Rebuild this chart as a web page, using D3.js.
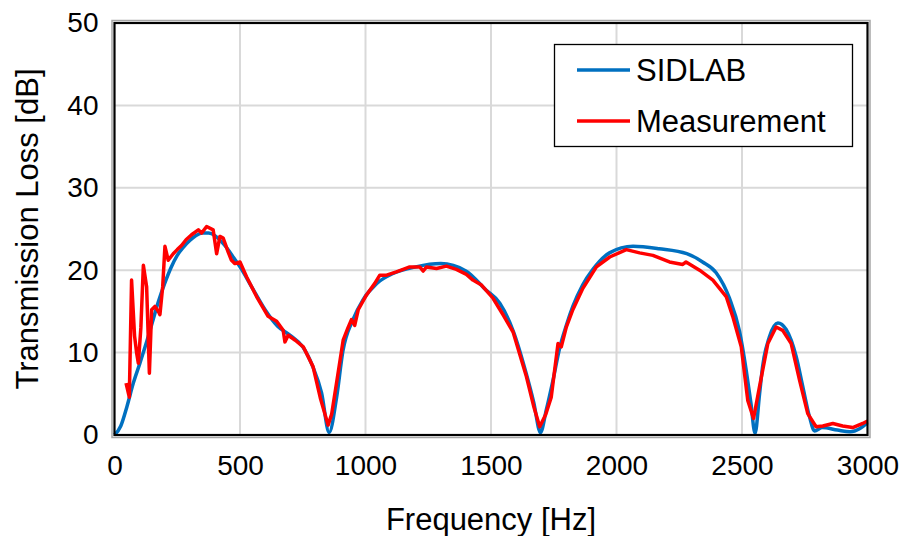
<!DOCTYPE html>
<html>
<head>
    <meta charset="utf-8">
    <style>
        body { margin: 0; padding: 0; overflow: hidden; background-color: #fff; }
        text { font-family: "Liberation Sans", Arial, sans-serif; fill: #000; }
        .grid line { stroke: #d9d9d9; stroke-width: 2; }
    </style>
</head>
<body>
    <div id="chart"></div>
    <script src="https://d3js.org/d3.v7.min.js"></script>
    <script>
        // SIDLAB prediction (smooth)
        var sidFreq = [0, 25, 50, 75, 100, 125, 150, 175, 200, 225, 250, 275, 300, 325, 350, 375, 400, 425, 450, 475, 500, 550, 600, 650, 700, 750, 790, 825, 855, 885, 910, 950, 990, 1045, 1110, 1200, 1300, 1400, 1480, 1535, 1590, 1640, 1670, 1697, 1720, 1746, 1773, 1800, 1826, 1865, 1906, 1972, 2066, 2170, 2280, 2343, 2397, 2450, 2490, 2517, 2535, 2552, 2570, 2582, 2609, 2643, 2676, 2716, 2742, 2769, 2789, 2820, 2880, 2930, 2970, 3000];
        var sidTL = [0, 1.1, 3.5, 6.3, 8.6, 11, 13.6, 16.2, 18.4, 20.3, 21.8, 22.8, 23.6, 24.2, 24.5, 24.5, 24.2, 23.5, 22.6, 21.5, 20.4, 17.8, 15.2, 13.2, 12.1, 10.7, 8.3, 5.1, 0.3, 4.6, 10.2, 14, 16.4, 18.4, 19.6, 20.4, 20.8, 19.9, 17.6, 16, 12.5, 7.5, 4, 0.3, 3, 6.5, 10.5, 13.3, 15.6, 18.2, 20.1, 22.1, 22.9, 22.6, 22, 21, 19.7, 16.6, 12.6, 7.8, 4, 0.2, 5, 8.3, 11.9, 13.6, 12.8, 9.5, 5.9, 2.2, 0.5, 0.9, 0.6, 0.4, 0.8, 1.5];

        // Measurement (noisy)
        var measFreq = [46, 59, 68, 80, 88, 95, 105, 115, 128, 139, 148, 161, 175, 181, 192, 201, 214, 234, 250, 267, 285, 307, 334, 347, 367, 393, 407, 420, 433, 453, 466, 480, 500, 526, 566, 612, 646, 672, 679, 692, 720, 752, 791, 820, 851, 865, 884, 911, 930, 944, 957, 971, 1004, 1037, 1057, 1084, 1123, 1150, 1176, 1216, 1230, 1243, 1283, 1322, 1362, 1402, 1428, 1462, 1508, 1550, 1588, 1641, 1670, 1694, 1718, 1740, 1767, 1780, 1800, 1826, 1866, 1920, 1973, 2039, 2092, 2145, 2211, 2264, 2277, 2331, 2384, 2437, 2463, 2497, 2523, 2546, 2570, 2603, 2636, 2662, 2696, 2729, 2762, 2795, 2822, 2862, 2901, 2941, 2981, 3000];
        var measTL = [6.3, 4.6, 18.8, 12, 10, 8.7, 13, 20.6, 18, 7.5, 15.2, 15.6, 15, 14.6, 18, 22.9, 21.2, 22, 22.5, 23, 23.7, 24.3, 24.9, 24.5, 25.3, 24.9, 22, 24.1, 23.9, 22.2, 21.2, 20.8, 21, 19.2, 16.8, 14.4, 13.8, 12.7, 11.3, 12.1, 11.5, 10.7, 8.3, 4.5, 1.2, 2.5, 6.2, 11.5, 13, 14, 13.3, 15.2, 17, 18.4, 19.4, 19.4, 19.8, 20.1, 20.4, 20.4, 19.9, 20.4, 20.2, 20.5, 20.1, 19.5, 18.8, 18.2, 16.6, 14.5, 12.5, 7.1, 3.5, 1, 2.5, 4.6, 11.1, 10.7, 13.1, 15.2, 17.8, 20.4, 21.6, 22.5, 22.1, 21.8, 21, 20.7, 21, 20, 18.8, 16.8, 14.4, 10.7, 4.2, 2, 5.9, 11.1, 13.1, 12.7, 11.1, 6.7, 2.6, 1, 1.1, 1.4, 1.1, 0.9, 1.4, 1.7];

        var xTicks = [0, 500, 1000, 1500, 2000, 2500, 3000];
        var yTicks = [0, 10, 20, 30, 40, 50];

        var width = 909, height = 536;
        var margin = { left: 114.5, right: 41.5, top: 23, bottom: 101 };

        var svg = d3.select("#chart").append("svg")
            .attr("width", width)
            .attr("height", height);

        var x = d3.scaleLinear().domain([0, 3000]).range([margin.left, width - margin.right]);
        var y = d3.scaleLinear().domain([0, 50]).range([height - margin.bottom, margin.top]);

        // gridlines
        var grid = svg.append("g").attr("class", "grid");
        grid.selectAll(".vx").data(xTicks.slice(1, -1)).enter().append("line")
            .attr("x1", d => x(d)).attr("x2", d => x(d))
            .attr("y1", y(0)).attr("y2", y(50));
        grid.selectAll(".hy").data(yTicks.slice(1, -1)).enter().append("line")
            .attr("x1", x(0)).attr("x2", x(3000))
            .attr("y1", d => y(d)).attr("y2", d => y(d));

        // series
        var sidData = sidFreq.map((f, i) => [f, sidTL[i]]);
        var measData = measFreq.map((f, i) => [f, measTL[i]]);

        svg.append("path")
            .datum(sidData)
            .attr("fill", "none")
            .attr("stroke", "#0070c0")
            .attr("stroke-width", 3.5)
            .attr("stroke-linejoin", "round")
            .attr("d", d3.line().x(d => x(d[0])).y(d => y(d[1])).curve(d3.curveMonotoneX));

        svg.append("path")
            .datum(measData)
            .attr("fill", "none")
            .attr("stroke", "#ff0000")
            .attr("stroke-width", 3.5)
            .attr("stroke-linejoin", "round")
            .attr("d", d3.line().x(d => x(d[0])).y(d => y(d[1])));

        // frame
        svg.append("rect")
            .attr("x", x(0) - 2.5).attr("y", y(50) - 2.5)
            .attr("width", x(3000) - x(0) + 5).attr("height", y(0) - y(50) + 5)
            .attr("fill", "none").attr("stroke", "#a6a6a6").attr("stroke-width", 1.5);
        svg.append("rect")
            .attr("x", x(0)).attr("y", y(50))
            .attr("width", x(3000) - x(0)).attr("height", y(0) - y(50))
            .attr("fill", "none").attr("stroke", "#000").attr("stroke-width", 2.2);

        // axes (labels only)
        var xAxis = d3.axisBottom(x).tickValues(xTicks).tickFormat(d3.format("d")).tickSize(0).tickPadding(20);
        var gx = svg.append("g").attr("transform", "translate(0," + y(0) + ")").call(xAxis);
        gx.select(".domain").remove();
        gx.selectAll("text").style("font-size", "28px").style("font-family", "'Liberation Sans', Arial, sans-serif").attr("fill", "#000");

        var yAxis = d3.axisLeft(y).tickValues(yTicks).tickFormat(d3.format("d")).tickSize(0).tickPadding(16);
        var gy = svg.append("g").attr("transform", "translate(" + x(0) + ",0)").call(yAxis);
        gy.select(".domain").remove();
        gy.selectAll("text").style("font-size", "28px").style("font-family", "'Liberation Sans', Arial, sans-serif").attr("fill", "#000");

        // axis titles
        svg.append("text")
            .attr("x", (x(0) + x(3000)) / 2).attr("y", 530)
            .attr("text-anchor", "middle")
            .style("font-size", "31px")
            .text("Frequency [Hz]");

        svg.append("text")
            .attr("transform", "translate(38," + ((y(0) + y(50)) / 2) + ") rotate(-90)")
            .attr("text-anchor", "middle")
            .style("font-size", "31px")
            .text("Transmission Loss [dB]");

        // legend
        var legend = svg.append("g");
        legend.append("rect")
            .attr("x", 554.5).attr("y", 44.5).attr("width", 298).attr("height", 102)
            .attr("fill", "#fff").attr("stroke", "#000").attr("stroke-width", 1.3);
        var legItems = [
            { name: "SIDLAB", color: "#0070c0", cy: 70 },
            { name: "Measurement", color: "#ff0000", cy: 121 }
        ];
        legItems.forEach(function(d) {
            legend.append("line")
                .attr("x1", 577).attr("x2", 630).attr("y1", d.cy).attr("y2", d.cy)
                .attr("stroke", d.color).attr("stroke-width", 3.5);
            legend.append("text")
                .attr("x", 636).attr("y", d.cy + 11)
                .style("font-size", "31px")
                .text(d.name);
        });
    </script>
</body>
</html>
